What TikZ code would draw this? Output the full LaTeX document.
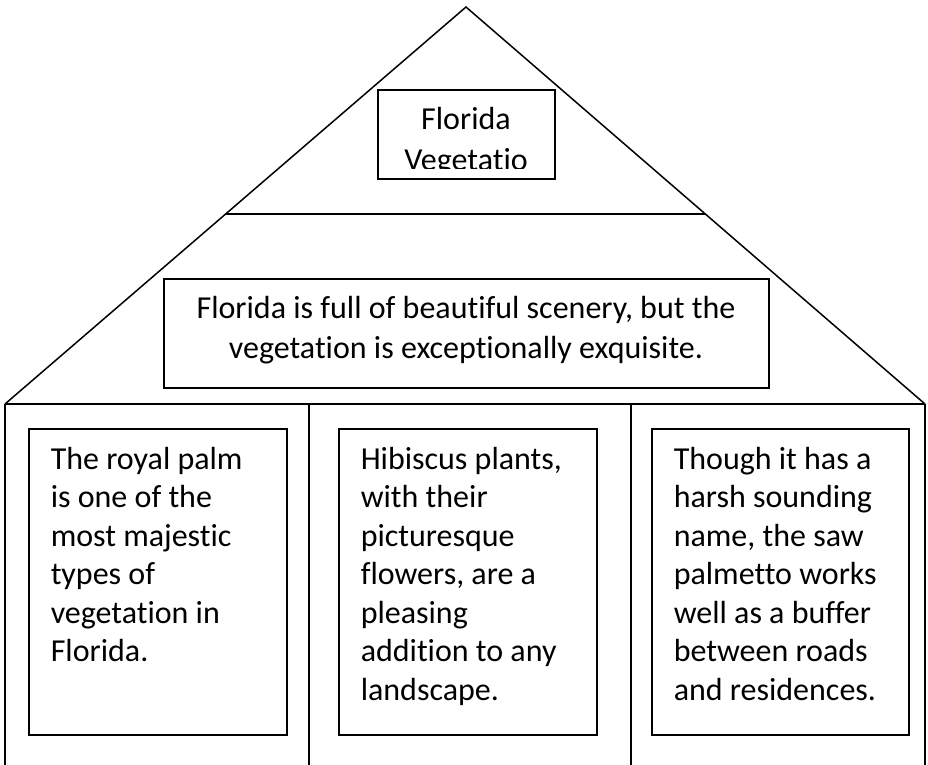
\documentclass[tikz,border=0pt]{standalone}
\usepackage{fontspec}
\setmainfont{Carlito}[Ligatures=NoCommon,RawFeature={-liga;-clig;-calt}]
\usetikzlibrary{positioning,calc}

\begin{document}
\begin{tikzpicture}[x=1pt,y=-1pt,line width=1.5pt,
    panel/.style={draw,rectangle,inner sep=0pt,anchor=north west},
    words/.style={inner sep=0pt,align=left,font=\fontsize{32}{38.5}\selectfont}]
	\useasboundingbox (0,0) rectangle (928,764);
	% roof and walls
	\coordinate (apex) at (466,7);
	\coordinate (eaveL) at (5,404);
	\coordinate (eaveR) at (925,404);
	\draw (eaveL)--(apex)--(eaveR);
	\draw (eaveL)--(eaveR);
	\draw ($(apex)!207/397!(eaveL)$)--($(apex)!207/397!(eaveR)$);
	\draw (eaveL)--(5,766);
	\draw (eaveR)--(925,766);
	\draw (309,404)--(309,766);
	\draw (631,404)--(631,766);
	% title (base anchor sits on the last line)
	\node[panel,minimum width=177,minimum height=89] (title) at (377,89) {};
	\begin{scope}
		\clip (377,89) rectangle (554,168);
		\node[words,align=center,anchor=base,font=\fontsize{32}{41}\selectfont] (titletxt) at (466,170) {Florida\\Vegetatio};
	\end{scope}
	% main idea
	\node[panel,minimum width=605,minimum height=109] (intro) at (163,278) {};
	\node[words,align=center,anchor=base,font=\fontsize{32}{40}\selectfont] (introtxt) at (466,358)
		{Florida is full of beautiful scenery, but the\\vegetation is exceptionally exquisite.};
	% details
	\node[panel,minimum width=258,minimum height=306] (palm) at (28,428) {};
	\node[words,anchor=base west] (palmtxt) at (50,661.5)
		{The royal palm\\is one of the\\most majestic\\types of\\vegetation in\\Florida.};
	\node[panel,minimum width=258,minimum height=306] (hibiscus) at (338,428) {};
	\node[words,anchor=base west] (hibiscustxt) at (360,700)
		{Hibiscus plants,\\with their\\picturesque\\flowers, are a\\pleasing\\addition to any\\landscape.};
	\node[panel,minimum width=257,minimum height=306] (palmetto) at (651,428) {};
	\node[words,anchor=base west] (palmettotxt) at (673,700)
		{Though it has a\\harsh sounding\\name, the saw\\palmetto works\\well as a buffer\\between roads\\and residences.};
\end{tikzpicture}
\end{document}
